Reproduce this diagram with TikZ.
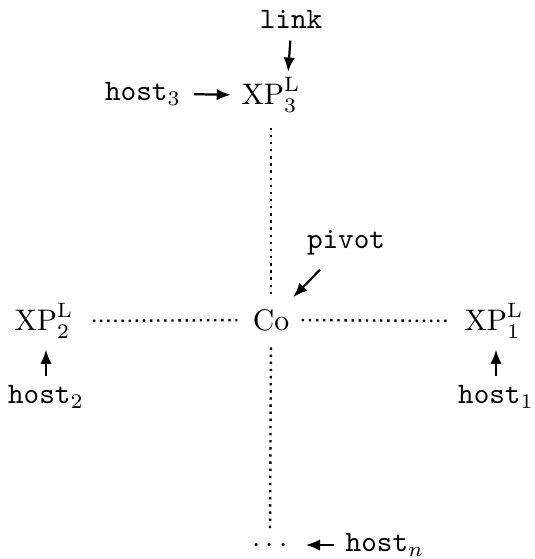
\documentclass[tikz,border=0pt]{standalone}
\usetikzlibrary{arrows.meta}
\begin{document}
\begin{tikzpicture}[x=0.3367pt,y=-0.3367pt,
  lbl/.style={inner sep=1pt},
  arr/.style={-{Latex[length=4.8pt,width=3.8pt]},line width=0.75pt},
  dots/.style={line width=0.8pt,dash pattern=on 0.8pt off 1.6pt}]
\useasboundingbox (0,0) rectangle (534,559);
\node[lbl] (co) at (271,320) {Co};
\node[lbl] (xp3) at (271,95) {$\mathrm{XP}^{\mathrm{L}}_{3}$};
\node[lbl] (xp2) at (44,321) {$\mathrm{XP}^{\mathrm{L}}_{2}$};
\node[lbl] (xp1) at (494,321) {$\mathrm{XP}^{\mathrm{L}}_{1}$};
\node[lbl] (dd) at (270,546) {$\cdots$};
\node[lbl] (link) at (291,19) {\texttt{link}};
\node[lbl] (h3) at (143,94) {$\mathtt{host}_3$};
\node[lbl] (pivot) at (346,243) {\texttt{pivot}};
\node[lbl] (h2) at (46,397) {$\mathtt{host}_2$};
\node[lbl] (h1) at (496,397) {$\mathtt{host}_1$};
\node[lbl] (hn) at (385,545) {$\mathtt{host}_n$};
\draw[dots,shorten <=4pt,shorten >=2.4pt] (xp3.south) -- (co.north);
\draw[dots,shorten <=4.4pt,shorten >=2pt] (co.south) -- (dd.north);
\draw[dots,shorten <=5.4pt,shorten >=4pt] (xp2.east) -- (co.west);
\draw[dots,shorten <=3pt,shorten >=3.7pt] (co.east) -- (xp1.west);
\draw[arr,shorten <=3pt,shorten >=0.8pt] (link.south) -- ([xshift=5.7pt]xp3.north);
\draw[arr,shorten <=3.2pt,shorten >=2.4pt] (h3.east) -- (xp3.west);
\draw[arr,shorten <=5pt,shorten >=4pt] (pivot) -- (co);
\draw[arr,shorten <=2pt,shorten >=2.6pt] (h2.north) -- (h2.north |- xp2.south);
\draw[arr,shorten <=2pt,shorten >=2.6pt] (h1.north) -- (h1.north |- xp1.south);
\draw[arr,shorten <=2.7pt,shorten >=5pt] (hn.west) -- (hn.west -| dd.east);
\end{tikzpicture}
\end{document}
